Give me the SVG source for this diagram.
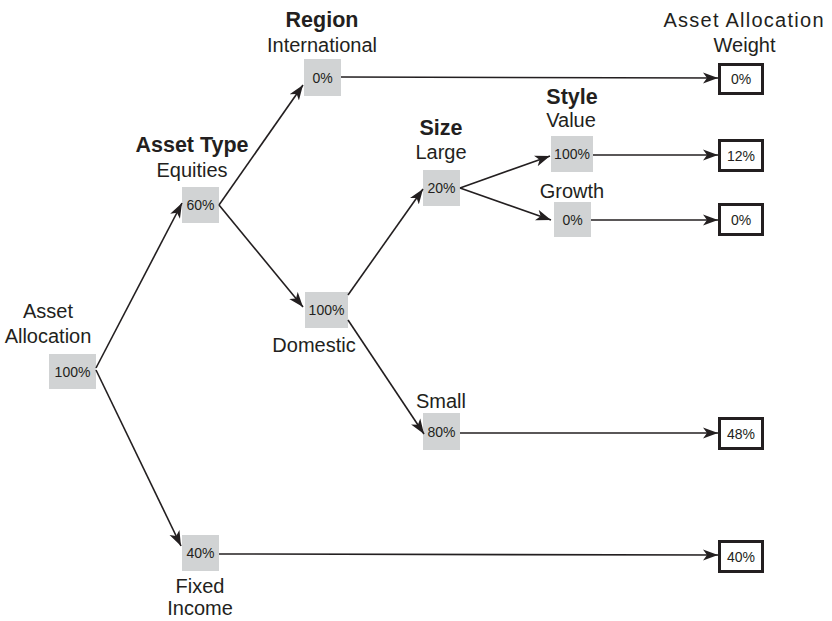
<svg xmlns="http://www.w3.org/2000/svg" width="832" height="621" viewBox="0 0 832 621">
<defs>
<marker id="ah" markerUnits="userSpaceOnUse" markerWidth="16" markerHeight="12" viewBox="0 0 16 12" refX="15" refY="6" orient="auto">
<path d="M0,0.5 L15,6 L0,11.5 L4,6 Z" fill="#231f20"/>
</marker>
<style>
text{font-family:"Liberation Sans",Arial,sans-serif;fill:#231f20;text-anchor:middle}
.lbl{font-size:20px}
.ttl{font-size:21.5px;font-weight:bold}
.val{font-size:14px}
.gbox{fill:#d1d3d4;stroke:none}
.obox{fill:#fff;stroke:#231f20;stroke-width:3}
.con line{stroke:#231f20;stroke-width:1.6;fill:none;marker-end:url(#ah)}
</style>
</defs>
<rect width="832" height="621" fill="#fff"/>

<g id="root">
<text class="lbl" x="48" y="318">Asset</text>
<text class="lbl" x="48" y="343">Allocation</text>
<rect class="gbox" x="49" y="354" width="47" height="35"/>
<text class="val" x="72.5" y="376.5">100%</text>
</g>

<g id="equities">
<text class="ttl" x="192" y="152">Asset Type</text>
<text class="lbl" x="192" y="177">Equities</text>
<rect class="gbox" x="182" y="187" width="37" height="36"/>
<text class="val" x="200.5" y="210">60%</text>
</g>

<g id="international">
<text class="ttl" x="322" y="27">Region</text>
<text class="lbl" x="322" y="52">International</text>
<rect class="gbox" x="304" y="59" width="37" height="37"/>
<text class="val" x="322.5" y="82.5">0%</text>
</g>

<g id="domestic">
<rect class="gbox" x="305" y="292" width="43" height="36"/>
<text class="val" x="326.5" y="315">100%</text>
<text class="lbl" x="314" y="352">Domestic</text>
</g>

<g id="large">
<text class="ttl" x="441" y="135">Size</text>
<text class="lbl" x="441" y="159">Large</text>
<rect class="gbox" x="423" y="170" width="37" height="36"/>
<text class="val" x="441.5" y="193">20%</text>
</g>

<g id="value">
<text class="ttl" x="572" y="104">Style</text>
<text class="lbl" x="571" y="127">Value</text>
<rect class="gbox" x="551" y="136" width="42" height="36"/>
<text class="val" x="572" y="159">100%</text>
</g>

<g id="growth">
<text class="lbl" x="572" y="198">Growth</text>
<rect class="gbox" x="554" y="202" width="37" height="35"/>
<text class="val" x="572.5" y="224.5">0%</text>
</g>

<g id="small">
<text class="lbl" x="441" y="408">Small</text>
<rect class="gbox" x="423" y="413" width="37" height="37"/>
<text class="val" x="441.5" y="436.5">80%</text>
</g>

<g id="fixed">
<rect class="gbox" x="182" y="535" width="37" height="36"/>
<text class="val" x="200.5" y="558">40%</text>
<text class="lbl" x="200" y="592.5">Fixed</text>
<text class="lbl" x="200" y="615">Income</text>
</g>

<g id="weight-header">
<text class="lbl" x="743.5" y="27" textLength="160" lengthAdjust="spacing">Asset Allocation</text>
<text class="lbl" x="744.5" y="52">Weight</text>
</g>

<g id="out-international">
<rect class="obox" x="719.5" y="64.5" width="43" height="29"/>
<text class="val" x="741" y="84">0%</text>
</g>
<g id="out-value">
<rect class="obox" x="719.5" y="140.5" width="43" height="30"/>
<text class="val" x="741" y="160.5">12%</text>
</g>
<g id="out-growth">
<rect class="obox" x="719.5" y="204.5" width="43" height="30"/>
<text class="val" x="741" y="224.5">0%</text>
</g>
<g id="out-small">
<rect class="obox" x="719.5" y="418.5" width="43" height="30"/>
<text class="val" x="741" y="438.5">48%</text>
</g>
<g id="out-fixed">
<rect class="obox" x="719.5" y="541.5" width="43" height="30"/>
<text class="val" x="741" y="561.5">40%</text>
</g>

<g id="connectors" class="con">
<line x1="96" y1="368" x2="182" y2="203"/>
<line x1="96" y1="370" x2="181" y2="546"/>
<line x1="219" y1="205" x2="303" y2="85"/>
<line x1="219" y1="205" x2="303" y2="307"/>
<line x1="341" y1="77" x2="718" y2="78"/>
<line x1="348" y1="295" x2="423" y2="189"/>
<line x1="348" y1="320" x2="424" y2="434"/>
<line x1="460" y1="188" x2="550" y2="156"/>
<line x1="460" y1="188" x2="551" y2="220"/>
<line x1="593" y1="155" x2="718" y2="155"/>
<line x1="591" y1="220" x2="718" y2="220"/>
<line x1="460" y1="433" x2="718" y2="433"/>
<line x1="219" y1="554" x2="718" y2="555"/>
</g>
</svg>
